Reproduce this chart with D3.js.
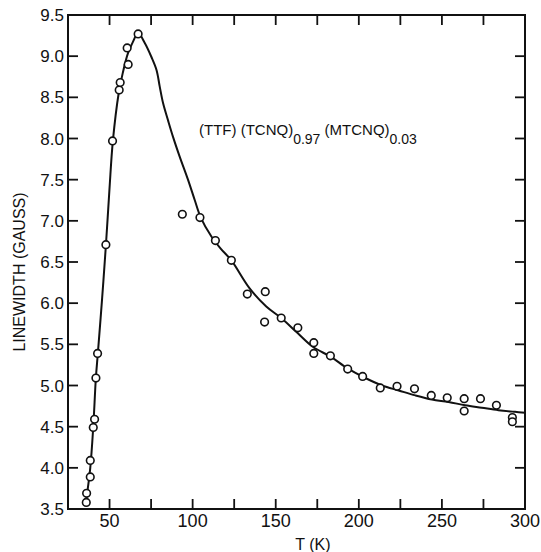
<!DOCTYPE html>
<html><head><meta charset="utf-8">
<script src="https://cdn.jsdelivr.net/npm/d3@7"></script>
<style>body{margin:0;background:#fff}svg{display:block}text{font-family:"Liberation Sans",Arial,sans-serif;fill:#111}</style>
</head><body>
<script>
// measured data points: temperature (K) and linewidth (gauss)
const pointT = [36.0,36.2,38.4,38.4,40.2,41.0,41.8,42.8,47.8,51.8,55.8,56.4,60.6,61.2,67.2,
  93.8,104.4,113.7,123.3,132.9,143.3,143.7,153.3,163.3,172.9,172.9,182.9,193.3,202.3,
  212.9,223.0,233.5,243.6,253.2,263.4,263.4,273.2,282.8,292.4,292.4];
const pointW = [3.58,3.69,3.89,4.09,4.49,4.59,5.09,5.39,6.71,7.97,8.59,8.68,9.10,8.90,9.27,
  7.08,7.04,6.76,6.52,6.11,5.77,6.14,5.82,5.70,5.52,5.39,5.36,5.20,5.11,
  4.97,4.99,4.96,4.88,4.85,4.84,4.69,4.84,4.76,4.61,4.56];
// fitted curve
const curveT = [36.1,38.4,40.2,41.8,43.0,45.5,47.8,50.0,52.0,55.5,58.0,61.0,64.0,67.2,71.2,75.2,78.3,80.2,82.2,85.2,88.2,92.2,97.2,101.3,104.9,111.3,117,123.3,134.3,144.3,153.3,163,172.3,183,193,203,214,224,234,244,254,264,274,284,294,300];
const curveW = [3.63,4.0,4.5,5.1,5.4,6.05,6.7,7.4,7.97,8.55,8.8,9.03,9.17,9.28,9.16,8.99,8.83,8.63,8.43,8.22,8.02,7.78,7.50,7.25,7.04,6.81,6.66,6.52,6.18,5.96,5.82,5.64,5.47,5.35,5.21,5.10,5.00,4.94,4.88,4.83,4.80,4.76,4.73,4.70,4.68,4.67];
const xTickLabels = [50,100,150,200,250,300];
const xMinorTicks = [50,75,100,125,150,175,200,225,250,275];
const yTickLabels = [3.5,4.0,4.5,5.0,5.5,6.0,6.5,7.0,7.5,8.0,8.5,9.0,9.5];

const W=541,H=552;
const svg=d3.select("body").append("svg").attr("width",W).attr("height",H);
const x=d3.scaleLinear().domain([25,300]).range([68,525]);
const y=d3.scaleLinear().domain([3.5,9.5]).range([509,15]);
const ink="#111";

// frame
svg.append("rect").attr("x",x(25)).attr("y",y(9.5)).attr("width",x(300)-x(25)).attr("height",y(3.5)-y(9.5))
  .attr("fill","none").attr("stroke",ink).attr("stroke-width",2);

const tl=10;
// bottom & top ticks
svg.append("g").selectAll("line").data(xMinorTicks).join("line")
  .attr("x1",d=>x(d)).attr("x2",d=>x(d)).attr("y1",y(3.5)).attr("y2",y(3.5)-tl).attr("stroke",ink).attr("stroke-width",1.8);
svg.append("g").selectAll("line").data(xMinorTicks).join("line")
  .attr("x1",d=>x(d)).attr("x2",d=>x(d)).attr("y1",y(9.5)).attr("y2",y(9.5)+tl).attr("stroke",ink).attr("stroke-width",1.8);
// left & right ticks
const yt=yTickLabels.filter(d=>d>3.5&&d<9.5);
svg.append("g").selectAll("line").data(yt).join("line")
  .attr("x1",x(25)).attr("x2",x(25)+tl).attr("y1",d=>y(d)).attr("y2",d=>y(d)).attr("stroke",ink).attr("stroke-width",1.8);
svg.append("g").selectAll("line").data(yt).join("line")
  .attr("x1",x(300)).attr("x2",x(300)-tl).attr("y1",d=>y(d)).attr("y2",d=>y(d)).attr("stroke",ink).attr("stroke-width",1.8);

// tick labels
svg.append("g").selectAll("text").data(xTickLabels).join("text")
  .attr("x",d=>x(d)).attr("y",527).attr("text-anchor","middle").attr("font-size",18).text(d=>d);
svg.append("g").selectAll("text").data(yTickLabels).join("text")
  .attr("x",64).attr("y",d=>y(d)+6).attr("text-anchor","end").attr("font-size",17).text(d=>d.toFixed(1));

// axis titles
svg.append("text").attr("x",313).attr("y",550).attr("text-anchor","middle").attr("font-size",16).text("T (K)");
svg.append("text").attr("transform","translate(25,272) rotate(-90)").attr("text-anchor","middle").attr("font-size",16).text("LINEWIDTH (GAUSS)");

// annotation
const ann=svg.append("text").attr("x",199).attr("y",135).attr("font-size",15);
ann.append("tspan").text("(TTF) (TCNQ)");
ann.append("tspan").attr("dy",9).attr("font-size",14).text("0.97");
ann.append("tspan").attr("dy",-9).text(" (MTCNQ)");
ann.append("tspan").attr("dy",9).attr("font-size",14).text("0.03");

// curve
const line=d3.line().x((d,i)=>x(curveT[i])).y((d,i)=>y(curveW[i])).curve(d3.curveCatmullRom.alpha(0.5));
svg.append("path").datum(curveT).attr("d",line).attr("fill","none").attr("stroke",ink).attr("stroke-width",2);

// points
svg.append("g").selectAll("circle").data(pointT).join("circle")
  .attr("cx",d=>x(d)).attr("cy",(d,i)=>y(pointW[i])).attr("r",3.8)
  .attr("fill","#fff").attr("stroke",ink).attr("stroke-width",1.6);
</script>
</body></html>
